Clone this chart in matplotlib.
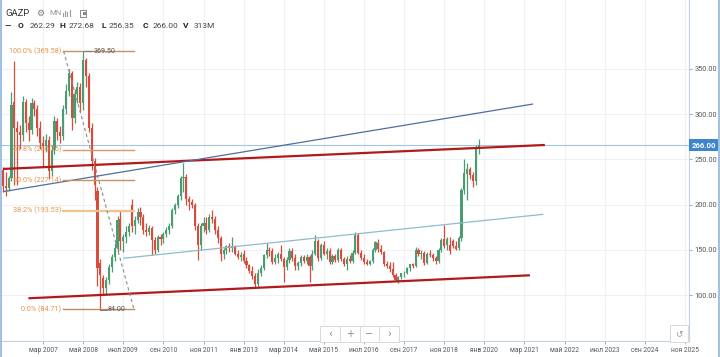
import matplotlib
matplotlib.use("Agg")
import matplotlib.pyplot as plt
from matplotlib.patches import Rectangle
from matplotlib.lines import Line2D

plt.rcParams['font.family'] = ['Roboto', 'DejaVu Sans']

# ---------------- data (monthly GAZP, Jan 2006 .. Nov 2019) ----------------
opens = [238, 221, 218, 229, 314, 285, 280, 277, 313, 290, 282, 312,
         306, 285, 268, 265, 272, 237, 260, 293, 280, 276, 306, 326,
         345, 296, 322, 330, 312, 360, 342, 285, 248, 215, 136, 119,
         108, 117, 131, 142, 152, 184, 160, 164, 170, 200, 177, 183,
         192, 186, 172, 170, 174, 161, 150, 164, 162, 168, 172, 176,
         194, 200, 210, 229, 231, 206, 203, 200, 176, 156, 176, 180,
         172, 186, 184, 172, 163, 146, 150, 154, 152, 154, 146, 142,
         146, 138, 133, 127, 121, 112, 125, 130, 144, 150, 149, 137,
         141, 145, 140, 131, 139, 149, 141, 132, 136, 142, 138, 142,
         132, 146, 160, 141, 155, 146, 149, 137, 143, 139, 150, 140,
         135, 140, 138, 147, 167, 147, 141, 137, 135, 138, 150, 158,
         151, 148, 134, 132, 129, 122, 116, 120, 124, 125, 130, 134,
         132, 150, 145, 147, 136, 146, 144, 141, 138, 150, 162, 155,
         156, 160, 154, 152, 163, 216, 234, 240, 233, 226, 262.29]
highs = [242, 236, 232, 325, 359, 292, 288, 320, 317, 298, 318, 316,
         310, 292, 276, 278, 276, 266, 298, 296, 287, 310, 333, 350,
         348, 328, 336, 334, 369.5, 362, 346, 290, 252, 220, 140, 122,
         120, 134, 146, 158, 188, 194, 168, 176, 180, 206, 188, 196,
         198, 190, 180, 178, 176, 164, 166, 168, 170, 175, 180, 196,
         202, 212, 232, 246.5, 234, 210, 206, 202, 180, 180, 186, 186,
         190, 194, 188, 176, 165, 152, 156, 158, 164, 156, 150, 148,
         150, 142, 135, 132, 124, 129, 133, 146, 158, 153, 152, 146,
         148, 155, 142, 142, 152, 152, 146, 138, 144, 144, 145, 144,
         150, 167, 162, 158, 160, 152, 152, 146, 145, 152, 152, 142,
         143, 144, 150, 170, 169, 150, 145, 140, 139, 152, 160, 162,
         155, 149, 138, 137, 137, 124, 121, 125, 127, 131, 135, 136,
         153, 152, 150, 149, 148, 150, 147, 143, 152, 163, 177.6, 164,
         164, 162, 160, 165, 218, 251, 246, 242, 236, 266, 272.68]
lows = [214, 210, 215, 226, 222, 222, 262, 270, 280, 270, 278, 298,
        276, 262, 242, 258, 228, 232, 256, 272, 268, 272, 300, 320,
        282, 290, 312, 302, 305, 330, 280, 238, 205, 110, 84, 100,
        100, 112, 126, 138, 148, 150, 148, 158, 165, 170, 168, 180,
        178, 168, 165, 166, 144, 146, 148, 156, 158, 164, 168, 174,
        190, 196, 205, 214, 200, 194, 196, 172, 139, 150, 170, 168,
        170, 180, 168, 158, 138, 140, 146, 148, 148, 144, 140, 138,
        136, 130, 124, 118, 109, 109, 121, 128, 141, 143, 134, 135,
        136, 138, 115, 128, 136, 138, 128, 128, 132, 136, 134, 115,
        128, 144, 138, 139, 144, 140, 134, 135, 137, 137, 138, 132,
        128, 136, 136, 145, 145, 139, 134, 133, 133, 136, 148, 148,
        145, 132, 130, 126, 120, 116, 113, 118, 120, 123, 127, 130,
        131, 143, 140, 133, 134, 142, 138, 135, 136, 148, 152, 150,
        146, 152, 150, 150, 160, 212, 205, 228, 220, 222, 256.35]
closes = [221, 218, 229, 310, 285, 280, 277, 313, 290, 282, 312, 306,
          285, 268, 265, 272, 237, 260, 293, 280, 276, 306, 326, 345,
          296, 322, 330, 312, 360, 342, 285, 248, 222, 130, 122, 108,
          117, 131, 142, 152, 183, 160, 164, 170, 176, 177, 183, 192,
          186, 172, 170, 174, 161, 150, 164, 162, 168, 172, 176, 194,
          200, 210, 229, 231, 206, 203, 200, 176, 156, 176, 180, 172,
          186, 184, 172, 163, 146, 150, 154, 152, 154, 146, 142, 144,
          138, 133, 127, 121, 112, 125, 130, 144, 150, 149, 137, 141,
          145, 140, 131, 139, 149, 141, 132, 136, 142, 138, 142, 132,
          146, 160, 141, 155, 146, 149, 137, 143, 139, 150, 140, 135,
          140, 138, 147, 167, 147, 141, 137, 135, 138, 150, 159, 151,
          148, 134, 132, 129, 122, 117, 120, 124, 125, 130, 134, 132,
          150, 145, 147, 136, 146, 144, 141, 138, 150, 161, 154, 162,
          149, 154, 151, 163, 216, 235, 240, 233, 226, 262, 266.00]

tick_month_index = [14, 28, 42, 56, 70, 84, 98, 112, 126, 140, 154, 168,
                    182, 196, 210, 224, 238]
tick_labels = ['мар 2007', 'май 2008', 'июл 2009', 'сен 2010', 'ноя 2011',
               'янв 2013', 'мар 2014', 'май 2015', 'июл 2016', 'сен 2017',
               'ноя 2018', 'янв 2020', 'мар 2021', 'май 2022', 'июл 2023',
               'сен 2024', 'ноя 2025']
price_ticks = [100, 150, 200, 250, 300, 350]

fib_pct = ['100.0%', '61.8%', '50.0%', '38.2%', '0.0%']
fib_levels = [369.58, 260.76, 227.14, 193.53, 84.71]

# trend lines: (start index, start price, end index, end price)
red_top = (0.0, 239.5, 189.1, 266.0)
red_bottom = (8.9, 96.6, 183.9, 122.0)
navy_line = (0.0, 214.4, 185.0, 311.3)
channel_line = (42.0, 140.8, 188.6, 189.4)

last_price = 266.00
max_label = 369.50
min_label = 84.00

# ---------------- figure ----------------
W, H = 720, 357
fig = plt.figure(figsize=(W / 100, H / 100), dpi=100)
fig.patch.set_facecolor('white')
ax = fig.add_axes([0, 16 / H, 689 / W, 341 / H])
ax.set_xlim(-1.01, 239.4)
ax.set_ylim(49.4, 426.2)

up, down = '#4c9c72', '#d94c3c'
n = len(closes)
idx = list(range(n))
cols = [up if c >= o else down for o, c in zip(opens, closes)]

# grid
for t in tick_month_index:
    ax.axvline(t, color='#edf0f5', lw=0.8, zorder=0)
for p in price_ticks:
    ax.axhline(p, color='#edf0f5', lw=0.8, zorder=0)

# candles
ax.vlines(idx, lows, highs, colors=cols, lw=0.9, zorder=3)
ax.bar(idx, [max(abs(c - o), 0.6) for o, c in zip(opens, closes)],
       bottom=[min(o, c) for o, c in zip(opens, closes)],
       width=0.74, color=cols, linewidth=0, zorder=3)

# last price line
ax.axhline(last_price, color='#a5c4e4', lw=0.8, zorder=2)

# trend lines
for (x0, y0, x1, y1), c, lw in [(red_top, '#b3191b', 1.6),
                                (red_bottom, '#b3191b', 1.6),
                                (navy_line, '#4d6f9e', 0.9),
                                (channel_line, '#8dbccc', 0.9)]:
    ax.plot([x0, x1], [y0, y1], color=c, lw=lw, zorder=4, solid_capstyle='butt')

# fibonacci
fib_x0, fib_x1 = 21.0, 45.7
fib_line_cols = ['#c8925c', '#d39a66', '#c99260', '#f3c191', '#b98d60']
fib_lw = [1.0, 1.0, 1.0, 1.6, 1.0]
for lvl, pct, lc, lw in zip(fib_levels, fib_pct, fib_line_cols, fib_lw):
    ax.plot([fib_x0, fib_x1], [lvl, lvl], color=lc, lw=lw, zorder=5)
    ax.text(fib_x0 - 0.6, lvl, f'{pct} ({lvl:.2f})', color='#e3954a',
            fontsize=5.2, ha='right', va='center', zorder=6)
ax.plot([fib_x0 + 0.2, fib_x1], [fib_levels[0], fib_levels[-1]],
        color='#8a8a8a', lw=0.8, ls=(0, (3, 2.5)), zorder=5)

# high/low labels
ax.plot([28.3, 31.2], [max_label, max_label], color='#777', lw=0.7, zorder=6)
ax.text(31.6, max_label, f'{max_label:.2f}', color='#555', fontsize=5.1,
        ha='left', va='center', zorder=6)
ax.plot([34.0, 36.2], [min_label, min_label], color='#777', lw=0.7, zorder=6)
ax.text(36.5, min_label, f'{min_label:.2f}', color='#555', fontsize=5.1,
        ha='left', va='center', zorder=6)

# axes styling
for s in ['top', 'left']:
    ax.spines[s].set_visible(False)
ax.spines['right'].set_color('#c3d1e0')
ax.spines['bottom'].set_color('#c3d1e0')
ax.spines['right'].set_linewidth(0.8)
ax.spines['bottom'].set_linewidth(0.8)
ax.yaxis.tick_right()
ax.set_yticks(price_ticks)
ax.set_yticklabels([f'{p:.2f}' for p in price_ticks])
ax.tick_params(axis='y', length=2.5, width=0.6, color='#999', labelsize=5.3,
               labelcolor='#555', pad=1.5)
ax.set_xticks(tick_month_index)
ax.set_xticklabels(tick_labels)
ax.tick_params(axis='x', length=2.5, width=0.6, color='#999', labelsize=4.8,
               labelcolor='#555', pad=2)


def fx(x):
    return x / W


def fy(y):
    return 1 - y / H


# last price badge
fig.text(fx(703.5), fy(145), f'{last_price:.2f}', color='white', fontsize=5.6,
         ha='center', va='center', fontweight='bold',
         bbox=dict(boxstyle='square,pad=0.28', fc='#3d85cf', ec='none'))

# header
fig.text(fx(5), fy(13), 'GAZP', fontsize=6.8, color='#333', ha='left', va='center')
fig.text(fx(36), fy(13), '⚙', fontsize=6.5, color='#777', ha='left', va='center',
         family=['DejaVu Sans'])
fig.text(fx(49), fy(13), 'MN', fontsize=5.6, color='#999', ha='left', va='center')
for k, hh in enumerate([3, 5, 4, 6]):
    fig.add_artist(Line2D([fx(63 + 2.2 * k)] * 2, [fy(16), fy(16 - hh)],
                          color='#999', lw=0.8))
fig.add_artist(Rectangle((fx(80), fy(17)), 6 / W, 7 / H, fill=False,
                         ec='#888', lw=0.7))
fig.add_artist(Rectangle((fx(83), fy(15)), 3 / W, 3 / H, fill=True,
                         fc='#888', ec='none'))

hdr = [('—', 5, True), ('O', 17.5, True), ('262.29', 30, False),
       ('H', 60, True), ('272.68', 68.5, False), ('L', 102, True),
       ('256.35', 108.5, False), ('C', 143, True), ('266.00', 153, False),
       ('V', 183, True), ('313M', 194, False)]
for txt, x, b in hdr:
    fig.text(fx(x), fy(26), txt, fontsize=6.0, color='#222' if b else '#444',
             ha='left', va='center', fontweight='bold' if b else 'normal')

# navigation buttons
bx0, by0, bw, bh = 320, 326, 19.8, 16
for k, s in enumerate(['‹', '+', '−', '›']):
    fig.add_artist(Rectangle((fx(bx0 + k * bw), fy(by0 + bh)), bw / W, bh / H,
                             fill=True, fc='white', ec='#d5d9e0', lw=0.7))
    fig.text(fx(bx0 + k * bw + bw / 2), fy(by0 + bh / 2), s, fontsize=7,
             color='#888', ha='center', va='center', family=['DejaVu Sans'])
fig.add_artist(Rectangle((fx(670), fy(342)), 18 / W, 17 / H, fill=True,
                         fc='white', ec='#d5d9e0', lw=0.7))
fig.text(fx(679), fy(333.5), '↺', fontsize=6.5, color='#999', ha='center',
         va='center', family=['DejaVu Sans'])

# frame borders
fig.add_artist(Line2D([fx(0.8)] * 2, [0, 1], color='#8fb6e2', lw=1.2))
fig.add_artist(Line2D([fx(719.2)] * 2, [0, 1], color='#8fb6e2', lw=1.2))

fig.savefig('out.png', dpi=100, facecolor='white')
